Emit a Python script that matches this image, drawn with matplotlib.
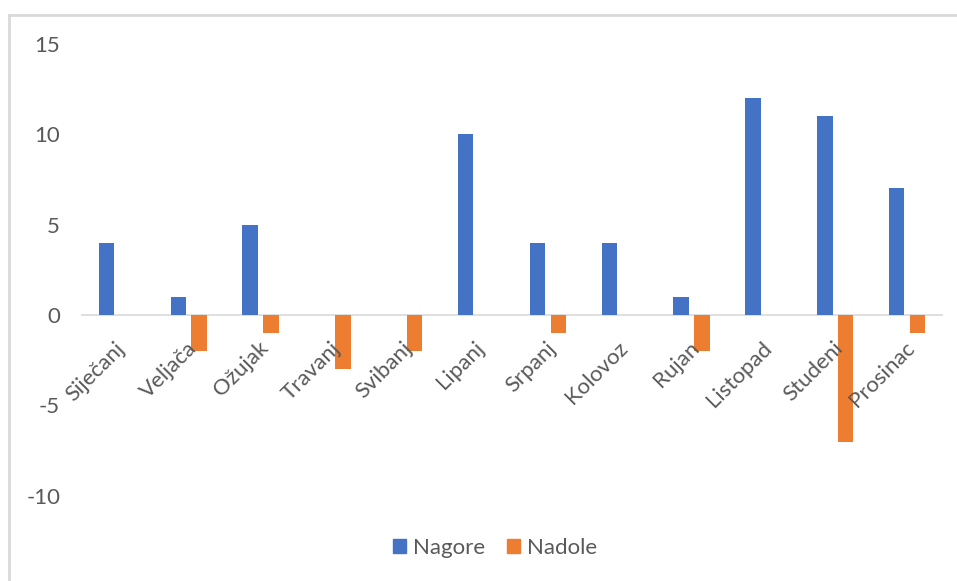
import numpy as np
import matplotlib.pyplot as plt
from matplotlib.lines import Line2D
from matplotlib.patches import Patch
import matplotlib.transforms as mtransforms

plt.rcParams['font.family'] = ['Lato', 'DejaVu Sans']
plt.rcParams['axes.unicode_minus'] = False

# podaci po mjesecima
mjeseci = ['Siječanj', 'Veljača', 'Ožujak', 'Travanj', 'Svibanj', 'Lipanj',
           'Srpanj', 'Kolovoz', 'Rujan', 'Listopad', 'Studeni', 'Prosinac']
nagore = [4, 1, 5, 0, 0, 10, 4, 4, 1, 12, 11, 7]
nadole = [0, -2, -1, -3, -2, 0, -1, 0, -2, 0, -7, -1]

plava = '#4472C4'
narancasta = '#ED7D31'
siva_tekst = '#595959'
siva_linija = '#D9D9D9'

fig = plt.figure(figsize=(9.57, 5.81), dpi=100)
ax = fig.add_axes([81 / 957, 51 / 581, 862 / 957, 500 / 581])

x = np.arange(len(mjeseci))
sirina = 0.215
ax.bar(x - 0.145, nagore, sirina, color=plava, linewidth=0, label='Nagore')
ax.bar(x + 0.145, nadole, sirina, color=narancasta, linewidth=0, label='Nadole')

ax.axhline(0, color=siva_linija, linewidth=1.2, zorder=0)

ax.set_xlim(-0.5, 11.5)
ax.set_ylim(-11.88, 15.75)
ax.set_yticks([-10, -5, 0, 5, 10, 15])
ax.tick_params(axis='y', length=0, pad=15, labelsize=16, labelcolor=siva_tekst)
ax.set_xticks([])
for s in ax.spines.values():
    s.set_visible(False)

# nazivi mjeseci ispod nulte linije, zakrenuti za 45°
pomak = mtransforms.offset_copy(ax.transData, fig=fig, x=0, y=-23, units='dots')
for i, m in enumerate(mjeseci):
    ax.text(i - 0.03, 0, m, transform=pomak, rotation=45, rotation_mode='anchor',
            ha='right', va='top', fontsize=16, color=siva_tekst)

rucke = [Patch(color=plava), Patch(color=narancasta)]
fig.legend(rucke, ['Nagore', 'Nadole'], loc='center', bbox_to_anchor=(0.517, 0.057),
           ncol=2, frameon=False, fontsize=16, labelcolor=siva_tekst,
           handlelength=0.6, handleheight=0.6, handletextpad=0.3, columnspacing=1.0)

# okvir grafikona
fig.add_artist(Line2D([9 / 957, 9 / 957], [0, 1 - 15 / 581], color=siva_linija, linewidth=2))
fig.add_artist(Line2D([9 / 957, 1], [1 - 15 / 581, 1 - 15 / 581], color=siva_linija, linewidth=2))

fig.savefig('out.png', dpi=100)
